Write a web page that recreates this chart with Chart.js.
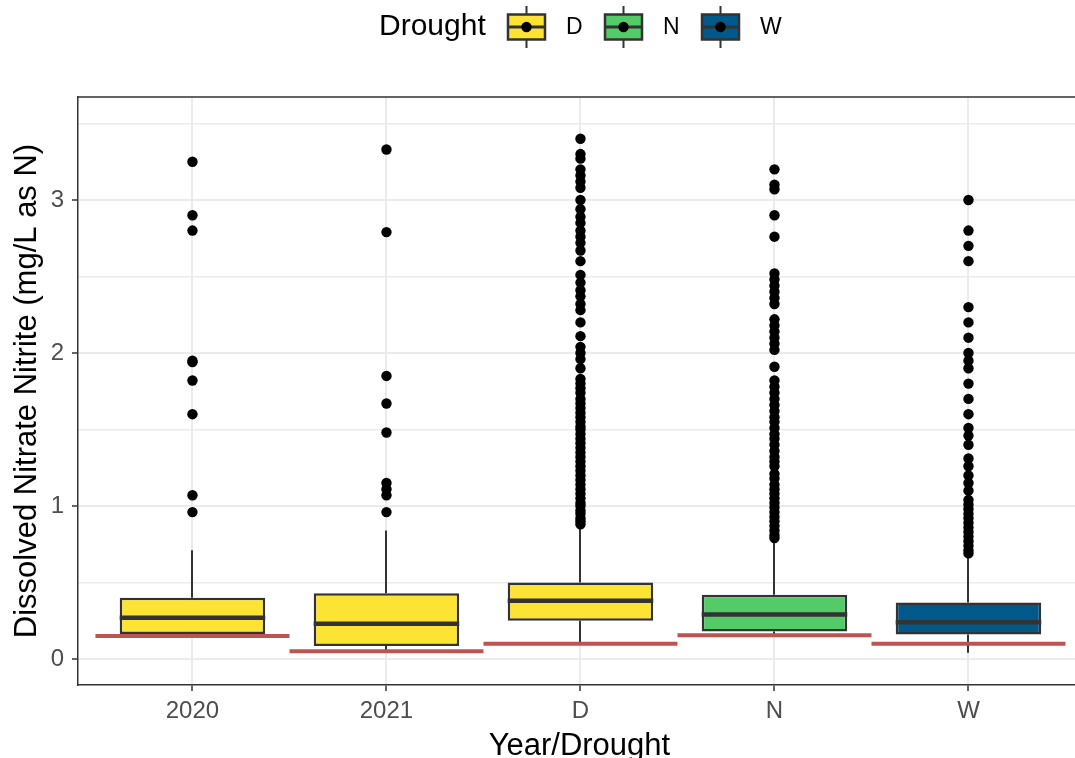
<!DOCTYPE html>
<html>
<head>
<meta charset="utf-8">
<title>Dissolved Nitrate Nitrite by Year/Drought</title>
<script src="https://cdn.jsdelivr.net/npm/chart.js@4/dist/chart.umd.min.js"></script>
<style>
  html, body { margin: 0; padding: 0; background: #ffffff; overflow: hidden; }
  #wrap { width: 1086px; height: 758px; position: relative; }
</style>
</head>
<body>
<div id="wrap"><canvas id="chart"></canvas></div>
<script>
// ---- data -------------------------------------------------------------
const categories     = ['2020', '2021', 'D', 'N', 'W'];
const droughtClass   = ['D', 'D', 'D', 'N', 'W'];
const lowerWhisker   = [0.15, 0.05, 0.10, 0.15, 0.04];
const q1             = [0.163, 0.085, 0.25, 0.18, 0.16];
const median         = [0.27, 0.23, 0.38, 0.29, 0.24];
const q3             = [0.40, 0.43, 0.50, 0.42, 0.37];
const upperWhisker   = [0.71, 0.84, 0.86, 0.76, 0.67];
const reportingLimit = [0.15, 0.05, 0.10, 0.155, 0.10];

const outliers2020 = [3.25, 2.90, 2.80, 1.95, 1.94, 1.82, 1.60, 1.07, 0.96];
const outliers2021 = [3.33, 2.79, 1.85, 1.67, 1.48, 1.15, 1.11, 1.07, 0.96];
const outliersD = [3.40, 3.30, 3.27, 3.20, 3.16, 3.12, 3.08, 3.00, 2.94, 2.89, 2.85, 2.80,
  2.76, 2.72, 2.67, 2.60, 2.51, 2.46, 2.41, 2.37, 2.32, 2.28, 2.20, 2.11, 2.04, 2.00, 1.96,
  1.90, 1.83, 1.80, 1.77, 1.74, 1.70, 1.67, 1.64, 1.61, 1.58, 1.55, 1.52, 1.50, 1.47, 1.44,
  1.41, 1.38, 1.35, 1.32, 1.29, 1.26, 1.23, 1.20, 1.17, 1.14, 1.11, 1.08, 1.05, 1.02, 1.00,
  0.97, 0.95, 0.92, 0.90, 0.88];
const outliersN = [3.20, 3.10, 3.07, 2.90, 2.76, 2.52, 2.48, 2.44, 2.40, 2.36, 2.32, 2.22,
  2.18, 2.14, 2.10, 2.06, 2.02, 1.91, 1.82, 1.78, 1.74, 1.70, 1.66, 1.62, 1.58, 1.55, 1.51,
  1.47, 1.44, 1.40, 1.36, 1.32, 1.29, 1.26, 1.21, 1.18, 1.14, 1.11, 1.08, 1.05, 1.02, 0.99,
  0.96, 0.93, 0.90, 0.87, 0.84, 0.81, 0.79];
const outliersW = [3.00, 2.80, 2.70, 2.60, 2.30, 2.20, 2.10, 2.00, 1.95, 1.90, 1.80, 1.70,
  1.60, 1.51, 1.46, 1.40, 1.31, 1.26, 1.20, 1.15, 1.10, 1.04, 1.01, 0.98, 0.95, 0.92, 0.89,
  0.86, 0.83, 0.80, 0.77, 0.74, 0.71, 0.69];
const outliersByCategory = [outliers2020, outliers2021, outliersD, outliersN, outliersW];

const yTicks = [0, 0.5, 1, 1.5, 2, 2.5, 3, 3.5];
const legendClasses = ['D', 'N', 'W'];

// ---- styling ----------------------------------------------------------
const FONT = "'Liberation Sans', Arial, Helvetica, sans-serif";
const classFill = { D: '#FDE333', N: '#53CC67', W: '#00588B' };
const INK = '#333333';
const LIMIT_RED = '#BC5550';
const GRID = '#EBEBEB';

Chart.defaults.font.family = FONT;

const boxData = categories.map((c, i) => ({ x: i, y: [q1[i], q3[i]] }));
const outlierData = [];
outliersByCategory.forEach((list, i) => list.forEach(v => outlierData.push({ x: i, y: v })));

// whiskers under the boxes, medians and reference lines on top
const boxDetails = {
  id: 'boxDetails',
  beforeDatasetsDraw(chart) {
    const { ctx, scales: { x, y } } = chart;
    ctx.save();
    ctx.strokeStyle = INK;
    ctx.lineWidth = 2;
    categories.forEach((c, i) => {
      const px = Math.round(x.getPixelForValue(i));
      ctx.beginPath();
      ctx.moveTo(px, y.getPixelForValue(upperWhisker[i]));
      ctx.lineTo(px, y.getPixelForValue(q3[i]));
      ctx.moveTo(px, y.getPixelForValue(q1[i]));
      ctx.lineTo(px, y.getPixelForValue(lowerWhisker[i]));
      ctx.stroke();
    });
    ctx.restore();
  },
  afterDatasetsDraw(chart) {
    const { ctx, scales: { x, y } } = chart;
    const bars = chart.getDatasetMeta(0).data;
    ctx.save();
    ctx.lineCap = 'butt';
    categories.forEach((c, i) => {
      const bar = bars[i].getProps(['x', 'width'], true);
      const my = y.getPixelForValue(median[i]);
      ctx.strokeStyle = INK;
      ctx.lineWidth = 4.5;
      ctx.beginPath();
      ctx.moveTo(bar.x - bar.width / 2, my);
      ctx.lineTo(bar.x + bar.width / 2, my);
      ctx.stroke();
    });
    categories.forEach((c, i) => {
      const ry = y.getPixelForValue(reportingLimit[i]);
      ctx.strokeStyle = LIMIT_RED;
      ctx.lineWidth = 4;
      ctx.beginPath();
      ctx.moveTo(x.getPixelForValue(i - 0.5), ry);
      ctx.lineTo(x.getPixelForValue(i + 0.5), ry);
      ctx.stroke();
    });
    ctx.restore();
  },
  afterDraw(chart) {
    const { ctx, chartArea } = chart;
    ctx.save();
    // upper and right edges of the panel frame
    ctx.strokeStyle = INK;
    ctx.lineWidth = 1.5;
    ctx.beginPath();
    ctx.moveTo(chartArea.left, chartArea.top);
    ctx.lineTo(chartArea.right, chartArea.top);
    ctx.lineTo(chartArea.right, chartArea.bottom);
    ctx.stroke();

    // legend: title followed by one boxplot key per drought class
    const cy = 27;
    ctx.fillStyle = '#000';
    ctx.textBaseline = 'middle';
    ctx.textAlign = 'left';
    ctx.font = '30px ' + FONT;
    ctx.fillText('Drought', 379, cy);
    const keyW = 37, keyH = 25;
    let kx = 508;
    ctx.font = '23px ' + FONT;
    legendClasses.forEach(cls => {
      ctx.strokeStyle = INK;
      ctx.lineWidth = 2;
      ctx.beginPath();
      ctx.moveTo(kx + keyW / 2, cy - 21);
      ctx.lineTo(kx + keyW / 2, cy + 21);
      ctx.stroke();
      ctx.fillStyle = classFill[cls];
      ctx.fillRect(kx, cy - keyH / 2, keyW, keyH);
      ctx.lineWidth = 2.5;
      ctx.strokeRect(kx, cy - keyH / 2, keyW, keyH);
      ctx.lineWidth = 3;
      ctx.beginPath();
      ctx.moveTo(kx, cy);
      ctx.lineTo(kx + keyW, cy);
      ctx.stroke();
      ctx.fillStyle = '#000';
      ctx.beginPath();
      ctx.arc(kx + keyW / 2, cy, 5.2, 0, Math.PI * 2);
      ctx.fill();
      ctx.fillText(cls, kx + keyW + 21, cy + 1);
      kx += 97;
    });
    ctx.restore();
  }
};

new Chart(document.getElementById('chart'), {
  type: 'bar',
  data: {
    datasets: [
      {
        type: 'bar',
        label: 'box',
        data: boxData,
        backgroundColor: droughtClass.map(c => classFill[c]),
        borderColor: INK,
        borderWidth: 2.5,
        borderSkipped: false,
        categoryPercentage: 1,
        barPercentage: 0.75,
        order: 2
      },
      {
        type: 'scatter',
        label: 'outliers',
        data: outlierData,
        backgroundColor: '#000',
        borderColor: '#000',
        borderWidth: 0,
        pointRadius: 5.2,
        order: 1
      }
    ]
  },
  options: {
    responsive: true,
    maintainAspectRatio: false,
    animation: false,
    layout: { padding: { top: 97, left: 0, right: 0, bottom: 0 } },
    plugins: { legend: { display: false }, tooltip: { enabled: false } },
    scales: {
      x: {
        type: 'linear',
        offset: false,
        min: -0.59,
        max: 4.579,
        afterBuildTicks: s => { s.ticks = categories.map((c, i) => ({ value: i })); },
        afterFit: s => { s.height = 73; },
        ticks: {
          callback: v => categories[v] ?? '',
          color: '#4D4D4D',
          font: { size: 24 },
          padding: 6,
          maxRotation: 0,
          autoSkip: false
        },
        grid: { offset: false, color: GRID, lineWidth: 2, tickLength: 6, tickColor: INK, tickWidth: 1.5 },
        border: { display: true, color: INK, width: 1.5 },
        title: {
          display: true,
          text: 'Year/Drought',
          color: '#000',
          font: { size: 31, lineHeight: 1 },
          padding: { top: 0, bottom: -4 }
        }
      },
      y: {
        type: 'linear',
        min: -0.17,
        max: 3.673,
        afterBuildTicks: s => { s.ticks = yTicks.map(v => ({ value: v })); },
        afterFit: s => { s.width = 78; },
        ticks: {
          callback: v => Number.isInteger(v) ? String(v) : '',
          color: '#4D4D4D',
          font: { size: 24 },
          padding: 8
        },
        grid: {
          color: GRID,
          lineWidth: c => Number.isInteger(c.tick.value) ? 2 : 1.4,
          tickLength: 6,
          tickColor: c => Number.isInteger(c.tick.value) ? INK : 'rgba(0,0,0,0)',
          tickWidth: 1.5
        },
        border: { display: true, color: INK, width: 1.5 },
        title: {
          display: true,
          text: 'Dissolved Nitrate Nitrite (mg/L as N)',
          color: '#000',
          font: { size: 31, lineHeight: 1 },
          padding: { top: 12, bottom: 0 }
        }
      }
    }
  },
  plugins: [boxDetails]
});
</script>
</body>
</html>
